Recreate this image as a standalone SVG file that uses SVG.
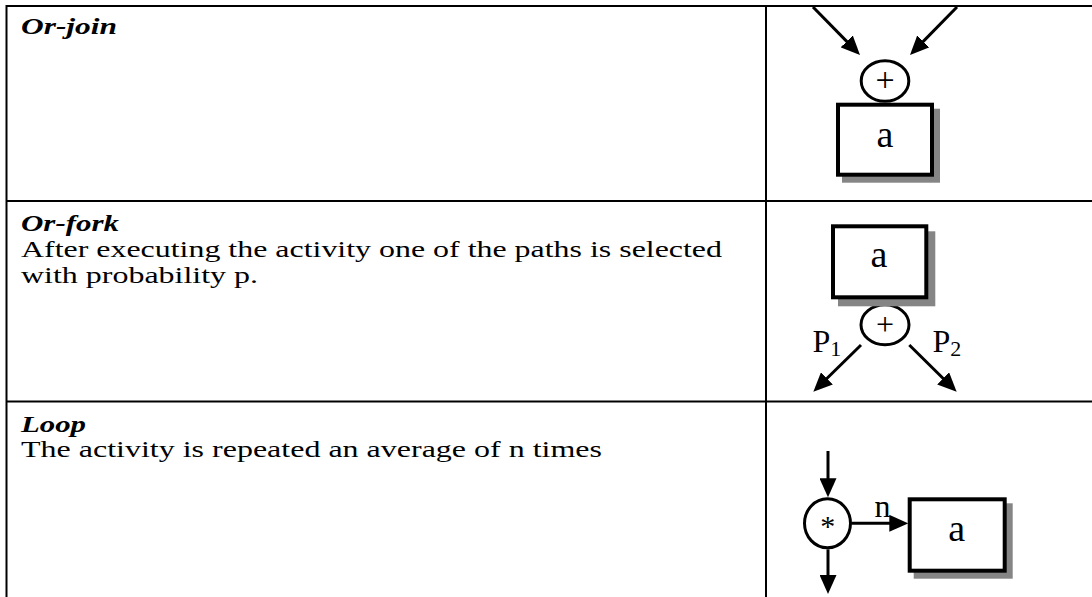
<svg xmlns="http://www.w3.org/2000/svg" width="1092" height="597" viewBox="0 0 1092 597">
  <style>
    .rule { stroke: #000; stroke-width: 2; fill: none; }
    .serif { font-family: 'Liberation Serif', 'Times New Roman', Times, serif; }
    .head { font-size: 24px; font-weight: bold; font-style: italic; fill: #000; }
    .body { font-size: 23px; fill: #000; }
    .box { fill: #fff; stroke: #000; stroke-width: 4; }
    .shadow { fill: #858585; stroke: none; }
    .gate { fill: #fff; stroke: #000; stroke-width: 3; }
    .lbl { fill: #000; }
    .edge { stroke: #000; stroke-width: 3; fill: none; marker-end: url(#arrow); }
  </style>
  <defs>
    <!-- solid triangular head; line stops 5px short of the tip -->
    <marker id="arrow" viewBox="0 0 19 17" markerWidth="19" markerHeight="17" refX="14" refY="8.5" orient="auto" markerUnits="userSpaceOnUse">
      <path d="M0,0 L19,8.5 L0,17 Z" fill="#000"/>
    </marker>
  </defs>

  <rect width="1092" height="597" fill="#fff"/>

  <!-- table rules -->
  <g id="table">
    <line class="rule" x1="6.5" y1="6" x2="1092" y2="6"/>
    <line class="rule" x1="6.5" y1="201" x2="1092" y2="201"/>
    <line class="rule" x1="6.5" y1="401.5" x2="1092" y2="401.5"/>
    <line class="rule" x1="6.5" y1="5" x2="6.5" y2="597"/>
    <line class="rule" x1="766" y1="5" x2="766" y2="597"/>
  </g>

  <!-- descriptions -->
  <g id="descriptions" class="serif">
    <text class="head" x="21" y="33.5" textLength="96" lengthAdjust="spacingAndGlyphs">Or-join</text>
    <text class="head" x="21" y="230.5" textLength="98" lengthAdjust="spacingAndGlyphs">Or-fork</text>
    <text class="body" x="21" y="256.7" textLength="701" lengthAdjust="spacingAndGlyphs">After executing the activity one of the paths is selected</text>
    <text class="body" x="21" y="283" textLength="237" lengthAdjust="spacingAndGlyphs">with probability p.</text>
    <text class="head" x="21" y="431.5" textLength="65" lengthAdjust="spacingAndGlyphs">Loop</text>
    <text class="body" x="21" y="457.3" textLength="581" lengthAdjust="spacingAndGlyphs">The activity is repeated an average of n times</text>
  </g>

  <!-- connectors -->
  <g id="connectors">
    <line class="edge" x1="813" y1="7" x2="856.5" y2="51.4"/>
    <line class="edge" x1="957" y1="7" x2="913.5" y2="51.4"/>
    <line class="edge" x1="861" y1="345" x2="816.9" y2="388.2"/>
    <line class="edge" x1="909.3" y1="345" x2="953.1" y2="388.2"/>
    <line class="edge" x1="828" y1="451" x2="828" y2="492.3"/>
    <line class="edge" x1="851.7" y1="523.3" x2="903.3" y2="523.3"/>
    <line class="edge" x1="828" y1="549.3" x2="828" y2="589"/>
  </g>

  <g class="serif">
    <!-- Or-join: gateway above activity -->
    <g id="join-activity">
      <rect class="shadow" x="842" y="108.7" width="98" height="74"/>
      <rect class="box" x="838" y="104.7" width="94" height="70"/>
      <text class="lbl" x="885" y="147" font-size="38" text-anchor="middle">a</text>
    </g>
    <g id="join-gateway">
      <ellipse class="gate" cx="885" cy="81" rx="23.8" ry="20.2"/>
      <text class="lbl" x="885" y="91" font-size="34" text-anchor="middle">+</text>
    </g>

    <!-- Or-fork: activity above gateway -->
    <g id="fork-gateway">
      <ellipse class="gate" cx="885" cy="324.7" rx="24" ry="20"/>
      <text class="lbl" x="885" y="334.5" font-size="32" text-anchor="middle">+</text>
    </g>
    <g id="fork-activity">
      <rect class="shadow" x="838" y="231.3" width="97.3" height="75"/>
      <rect class="box" x="833" y="226.3" width="93.3" height="71"/>
      <text class="lbl" x="879" y="267.3" font-size="38" text-anchor="middle">a</text>
    </g>
    <g id="fork-labels">
      <text class="lbl" x="812.5" y="352" font-size="32">P<tspan font-size="22" dy="4">1</tspan></text>
      <text class="lbl" x="932.5" y="352" font-size="32">P<tspan font-size="22" dy="4">2</tspan></text>
    </g>

    <!-- Loop: gateway feeding the repeated activity -->
    <g id="loop-gateway">
      <ellipse class="gate" cx="827.5" cy="523.3" rx="23" ry="24.5"/>
      <text class="lbl" x="827.8" y="536" font-size="30" text-anchor="middle">*</text>
    </g>
    <g id="loop-activity">
      <rect class="shadow" x="913.7" y="503.3" width="99" height="75.4"/>
      <rect class="box" x="909.7" y="499.3" width="95" height="71.4"/>
      <text class="lbl" x="956.7" y="540.7" font-size="38" text-anchor="middle">a</text>
    </g>
    <g id="loop-label">
      <text class="lbl" x="874.5" y="516.7" font-size="32">n</text>
    </g>
  </g>
</svg>
